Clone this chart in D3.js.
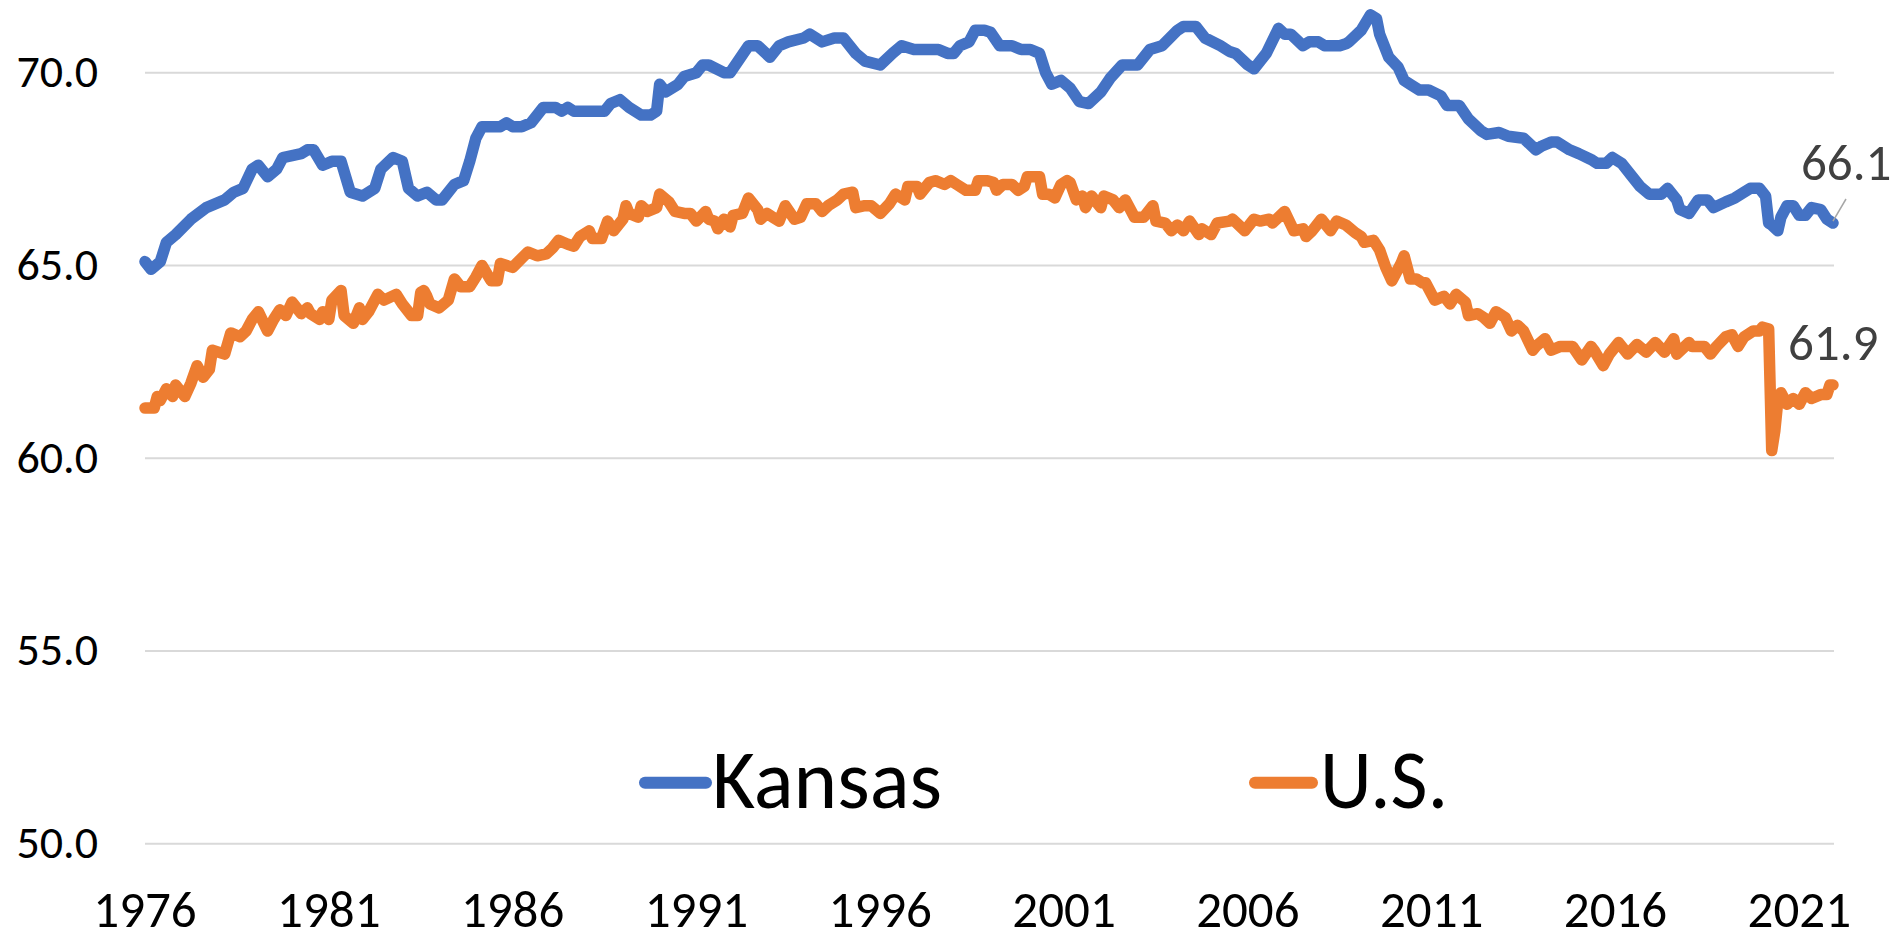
<!DOCTYPE html>
<html>
<head>
<meta charset="utf-8">
<script src="https://cdn.jsdelivr.net/npm/d3@7"></script>
<style>
  html, body { margin: 0; padding: 0; background: #ffffff; }
  svg { display: block; }
  text { font-family: Carlito, "Liberation Sans", Arial, sans-serif; }
</style>
</head>
<body>
<svg id="chart" width="1897" height="935"></svg>
<script>
// ---- DATA (months since Jan 1976, values in %) ----
const seriesNames = ["Kansas", "U.S."];
const tickLabels = ["1976", "1981", "1986", "1991", "1996", "2001", "2006", "2011", "2016", "2021"];
const tickMonths = [0, 60, 120, 180, 240, 300, 360, 420, 480, 540];
const yTicks = [50, 55, 60, 65, 70];
const lastMonth = 551;

const kansasT = [0,2,5,7,10,15,20,26,29,32,35,37,40,43,45,51,53,55,58,61,64,67,71,75,77,81,84,86,89,92,95,97,101,104,106,108,110,116,118,120,123,126,130,134,136,138,140,143,150,152,155,158,162,165,167,168,170,174,176,180,182,184,189,191,197,200,204,207,210,215,217,221,225,228,232,235,240,244,247,251,259,262,264,266,269,271,274,276,279,283,286,289,292,294,296,299,302,305,308,312,315,319,324,328,332,337,339,343,346,351,354,356,360,362,364,366,370,372,374,378,380,383,385,390,392,393,397,400,402,403,406,409,411,413,416,419,423,425,429,432,436,438,442,445,450,454,456,459,461,465,468,472,474,477,479,482,485,488,491,495,497,500,501,504,507,510,512,516,519,522,524,527,529,530,531,533,534,536,538,540,542,544,547,549,551];
const kansasV = [65.1,64.9,65.1,65.6,65.8,66.2,66.5,66.7,66.9,67.0,67.5,67.6,67.3,67.5,67.8,67.9,68.0,68.0,67.6,67.7,67.7,66.9,66.8,67.0,67.5,67.8,67.7,67.0,66.8,66.9,66.7,66.7,67.1,67.2,67.7,68.3,68.6,68.6,68.7,68.6,68.6,68.7,69.1,69.1,69.0,69.1,69.0,69.0,69.0,69.2,69.3,69.1,68.9,68.9,69.0,69.7,69.5,69.7,69.9,70.0,70.2,70.2,70.0,70.0,70.7,70.7,70.4,70.7,70.8,70.9,71.0,70.8,70.9,70.9,70.5,70.3,70.2,70.5,70.7,70.6,70.6,70.5,70.5,70.7,70.8,71.1,71.1,71.05,70.7,70.7,70.6,70.6,70.5,70.0,69.7,69.8,69.6,69.25,69.2,69.5,69.85,70.2,70.2,70.6,70.7,71.1,71.2,71.2,70.9,70.7,70.55,70.5,70.2,70.1,70.3,70.5,71.15,71.0,71.0,70.7,70.8,70.8,70.7,70.7,70.75,70.8,71.1,71.5,71.4,71.0,70.4,70.15,69.8,69.7,69.55,69.55,69.4,69.15,69.15,68.8,68.5,68.4,68.45,68.35,68.3,68.0,68.1,68.2,68.2,68.0,67.9,67.75,67.65,67.65,67.8,67.65,67.35,67.05,66.85,66.85,67.0,66.7,66.45,66.35,66.7,66.7,66.5,66.65,66.75,66.9,67.0,67.0,66.8,66.1,66.05,65.9,66.25,66.55,66.55,66.3,66.3,66.5,66.45,66.2,66.1];

const usT = [0,3,4,5,7,9,10,13,15,17,19,21,22,26,28,31,33,35,37,40,42,44,46,48,51,53,54,57,58,60,61,64,65,68,70,71,73,76,78,82,84,87,89,90,91,92,93,96,99,101,103,106,108,110,113,115,116,120,125,128,131,133,135,138,140,142,145,146,149,151,153,156,157,158,161,162,164,167,168,171,173,176,178,180,183,184,186,187,189,191,192,195,197,200,201,203,205,207,209,212,214,216,219,221,223,226,228,231,232,235,237,240,243,245,248,249,252,253,256,258,261,263,265,268,271,272,275,277,278,280,283,285,287,288,292,293,295,297,299,301,302,304,306,307,309,312,313,316,318,320,323,326,329,330,333,335,337,339,341,344,345,348,350,354,355,359,362,364,367,368,372,375,378,379,381,384,387,389,392,395,397,398,401,403,405,407,410,411,413,415,417,418,421,424,426,428,431,432,435,437,439,441,444,446,448,450,453,454,457,459,462,466,469,472,473,476,478,481,484,487,490,493,496,499,500,504,505,509,511,513,516,518,520,522,525,527,528,530,531,532,533,534,536,538,540,542,544,547,549,550,551];
const usV = [61.3,61.3,61.6,61.5,61.8,61.6,61.9,61.6,61.95,62.4,62.1,62.3,62.8,62.7,63.25,63.15,63.3,63.6,63.8,63.3,63.6,63.85,63.7,64.05,63.75,63.9,63.75,63.6,63.8,63.6,64.1,64.35,63.7,63.5,63.9,63.6,63.8,64.25,64.1,64.25,64.0,63.7,63.7,64.3,64.35,64.2,64.0,63.9,64.1,64.65,64.45,64.45,64.7,65.0,64.6,64.6,65.05,64.95,65.35,65.25,65.3,65.45,65.65,65.55,65.5,65.75,65.9,65.7,65.7,66.15,65.9,66.2,66.55,66.35,66.25,66.55,66.4,66.5,66.85,66.65,66.4,66.35,66.35,66.15,66.4,66.2,66.15,65.95,66.2,66.0,66.3,66.35,66.75,66.45,66.2,66.35,66.25,66.15,66.55,66.2,66.25,66.6,66.6,66.4,66.55,66.7,66.85,66.9,66.5,66.55,66.55,66.35,66.6,66.85,66.7,67.05,67.05,66.85,67.15,67.2,67.1,67.2,67.1,66.95,66.95,67.2,67.2,67.15,66.95,67.1,67.1,66.95,67.05,67.3,67.3,66.85,66.85,66.75,67.1,67.2,67.15,66.7,66.8,66.5,66.8,66.5,66.8,66.7,66.5,66.7,66.25,66.25,66.55,66.15,66.1,65.9,66.05,65.9,66.15,65.8,65.95,65.8,66.1,66.15,66.2,65.9,66.2,66.15,66.2,66.1,66.4,65.9,65.95,65.75,65.9,66.2,65.9,66.15,66.05,65.85,65.75,65.6,65.65,65.4,64.95,64.6,65.05,65.25,64.65,64.65,64.55,64.55,64.1,64.2,64.0,64.25,64.05,63.7,63.75,63.65,63.5,63.8,63.65,63.3,63.45,63.3,62.8,62.9,63.1,62.8,62.9,62.9,62.55,62.9,62.8,62.4,62.7,63.0,62.7,62.95,62.75,63.0,62.75,63.1,62.7,63.0,62.9,62.9,62.7,62.9,63.15,63.2,62.9,63.15,63.3,63.3,63.4,63.35,60.2,60.7,61.5,61.7,61.4,61.55,61.4,61.7,61.55,61.65,61.65,61.9,61.9];

const lastLabels = ["66.1", "61.9"];
const colors = ["#4472C4", "#ED7D31"];

// ---- CHART ----
const svg = d3.select("#chart");
const W = 1897, H = 935;
svg.append("rect").attr("width", W).attr("height", H).attr("fill", "#ffffff");

const x = d3.scaleLinear().domain([0, lastMonth]).range([145, 1833]);
const y = d3.scaleLinear().domain([50, 70]).range([843.7, 72.7]);

// gridlines
svg.append("g").selectAll("line").data(yTicks).join("line")
  .attr("x1", 145).attr("x2", 1834)
  .attr("y1", d => y(d)).attr("y2", d => y(d))
  .attr("stroke", "#d9d9d9").attr("stroke-width", 2);

// y labels
svg.append("g").selectAll("text").data(yTicks).join("text")
  .attr("x", 98).attr("y", d => y(d) + 14.5)
  .attr("text-anchor", "end")
  .attr("font-size", 46).attr("fill", "#000")
  .text(d => d.toFixed(1));

// x labels
svg.append("g").selectAll("text").data(tickMonths).join("text")
  .attr("x", d => x(d)).attr("y", 927)
  .attr("text-anchor", "middle")
  .attr("font-size", 51).attr("fill", "#000")
  .text((d, i) => tickLabels[i]);

const line = d3.line().x(d => x(d[0])).y(d => y(d[1])).curve(d3.curveLinear);
const series = [d3.zip(kansasT, kansasV), d3.zip(usT, usV)];

series.forEach((s, i) => {
  svg.append("path").datum(s)
    .attr("d", line)
    .attr("fill", "none")
    .attr("stroke", colors[i])
    .attr("stroke-width", 11.5)
    .attr("stroke-linejoin", "round")
    .attr("stroke-linecap", "round");
});

// leader line for Kansas label
const kEnd = series[0][series[0].length - 1];
svg.append("line")
  .attr("x1", x(kEnd[0])).attr("y1", y(kEnd[1]) - 2)
  .attr("x2", 1846).attr("y2", 199)
  .attr("stroke", "#a6a6a6").attr("stroke-width", 1.5);

// end labels
svg.append("text").attr("x", 1801).attr("y", 180)
  .attr("font-size", 51).attr("fill", "#404040").text(lastLabels[0]);
svg.append("text").attr("x", 1788).attr("y", 360)
  .attr("font-size", 51).attr("fill", "#404040").text(lastLabels[1]);

// legend
const legend = [
  {x1: 645, x2: 706, tx: 712, tw: 230},
  {x1: 1255, x2: 1312, tx: 1320, tw: 128}
];
legend.forEach((l, i) => {
  svg.append("line")
    .attr("x1", l.x1).attr("x2", l.x2).attr("y1", 782.7).attr("y2", 782.7)
    .attr("stroke", colors[i]).attr("stroke-width", 12).attr("stroke-linecap", "round");
  svg.append("text").attr("x", l.tx).attr("y", 808)
    .attr("font-size", 84).attr("fill", "#000")
    .attr("textLength", l.tw).attr("lengthAdjust", "spacingAndGlyphs")
    .text(seriesNames[i]);
});
</script>
</body>
</html>
